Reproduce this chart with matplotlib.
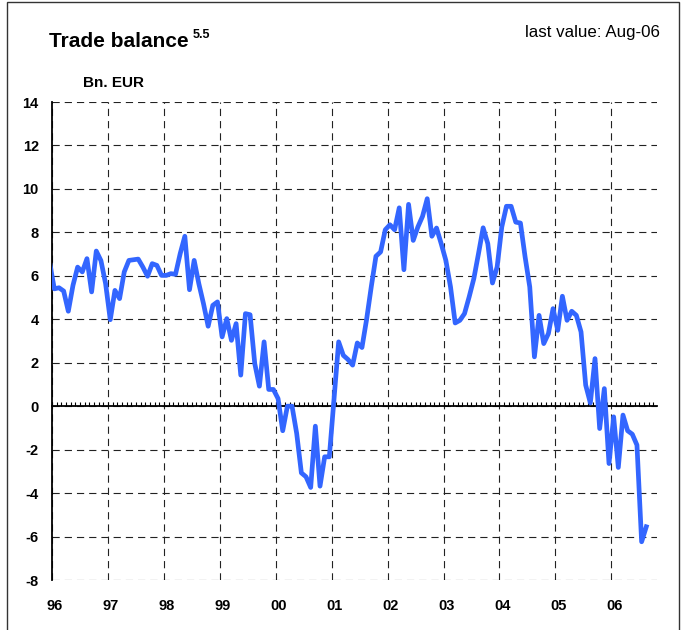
import numpy as np
import matplotlib
matplotlib.use("Agg")
import matplotlib.pyplot as plt
from matplotlib.patches import Rectangle

plt.rcParams['font.family'] = ['Liberation Sans', 'DejaVu Sans']

# Monthly trade balance, Bn. EUR, Dec-95 .. Aug-06 (Dec-95 is clipped by the axis)
start_month = -1  # months relative to Jan-96
values = [
    6.6,
    # 1996
    5.4, 5.45, 5.3, 4.37, 5.56, 6.4, 6.18, 6.79, 5.26, 7.14, 6.7, 5.64,
    # 1997
    3.98, 5.33, 4.95, 6.18, 6.71, 6.74, 6.77, 6.4, 5.98, 6.56, 6.48, 6.02,
    # 1998
    6.02, 6.1, 6.07, 7.02, 7.82, 5.36, 6.71, 5.64, 4.72, 3.68, 4.64, 4.8,
    # 1999
    3.19, 4.03, 3.03, 3.8, 1.43, 4.26, 4.21, 1.96, 0.92, 2.96, 0.77, 0.77,
    # 2000
    0.35, -1.13, 0.0, 0.0, -1.26, -3.07, -3.25, -3.74, -0.92, -3.68, -2.33, -2.33,
    # 2001
    0.3, 2.96, 2.34, 2.15, 1.89, 2.91, 2.7, 4.0, 5.5, 6.9, 7.1, 8.12,
    # 2002
    8.35, 8.12, 9.13, 6.28, 9.29, 7.63, 8.25, 8.74, 9.55, 7.82, 8.2, 7.48,
    # 2003
    6.71, 5.49, 3.83, 3.95, 4.26, 5.03, 5.87, 7.02, 8.21, 7.48, 5.67, 6.41,
    # 2004
    8.25, 9.2, 9.2, 8.47, 8.43, 6.87, 5.49, 2.27, 4.18, 2.88, 3.34, 4.49,
    # 2005
    3.49, 5.06, 3.95, 4.37, 4.18, 3.42, 0.97, 0.15, 2.19, -1.03, 0.81, -2.64,
    # 2006
    -0.49, -2.82, -0.41, -1.13, -1.29, -1.79, -6.24, -5.55,
]
year_labels = ['96', '97', '98', '99', '00', '01', '02', '03', '04', '05', '06']
y_ticks = [-8, -6, -4, -2, 0, 2, 4, 6, 8, 10, 12, 14]

W, H = 687, 630
fig = plt.figure(figsize=(W / 100, H / 100), dpi=100)
ax = fig.add_axes([52 / W, 1 - 580 / H, (657 - 52) / W, (580 - 102) / H])

# months are plotted mid-month
x = np.arange(start_month, start_month + len(values)) + 0.5
ax.plot(x, values, color='#3366FF', lw=3.4, solid_joinstyle='round', zorder=5)

ax.set_xlim(0, 129.8)
ax.set_ylim(-8, 14)

# Year gridlines and monthly ticks on the zero line
year_pos = np.arange(len(year_labels)) * 12
ax.set_xticks(year_pos)
ax.set_xticks(np.arange(0, 130), minor=True)
ax.set_yticks(y_ticks)
ax.set_yticklabels([str(v) for v in y_ticks], fontsize=10.5, fontweight='bold')

grid_kw = dict(color='#222222', lw=0.8, linestyle=(0, (6.5, 4.5)))
ax.grid(True, which='major', axis='both', **grid_kw)

for s in ['top', 'right']:
    ax.spines[s].set_visible(False)
ax.spines['bottom'].set_position(('data', 0))
ax.spines['bottom'].set_linewidth(1.3)
ax.spines['left'].set_linewidth(1.3)
ax.tick_params(axis='x', which='both', direction='in', length=3, width=0.8,
               labelbottom=False, color='black')
ax.tick_params(axis='y', length=0, pad=9.5)

sec = ax.secondary_xaxis('bottom')
sec.set_xticks(year_pos + 0.6)
sec.set_xticklabels(year_labels, fontsize=10.5, fontweight='bold')
sec.tick_params(length=0, pad=14)
sec.spines['bottom'].set_visible(False)

ax.set_axisbelow(True)

# Texts
fig.text(49 / W, 1 - 47 / H, 'Trade balance', fontsize=15, fontweight='bold',
         ha='left', va='baseline')
fig.text(193 / W, 1 - 38 / H, '5.5', fontsize=9, fontweight='bold',
         ha='left', va='baseline')
fig.text(83 / W, 1 - 87 / H, 'Bn. EUR', fontsize=11, fontweight='bold',
         ha='left', va='baseline')
fig.text(660 / W, 1 - 37 / H, 'last value: Aug-06', fontsize=12.2,
         ha='right', va='baseline')

# Outer frame
fig.patches.append(Rectangle((7 / W, -0.02), (679 - 7) / W, 1.02 - 2 / H,
                             transform=fig.transFigure, fill=False,
                             edgecolor='#333333', lw=1.0))

fig.savefig('out.png', dpi=100)
